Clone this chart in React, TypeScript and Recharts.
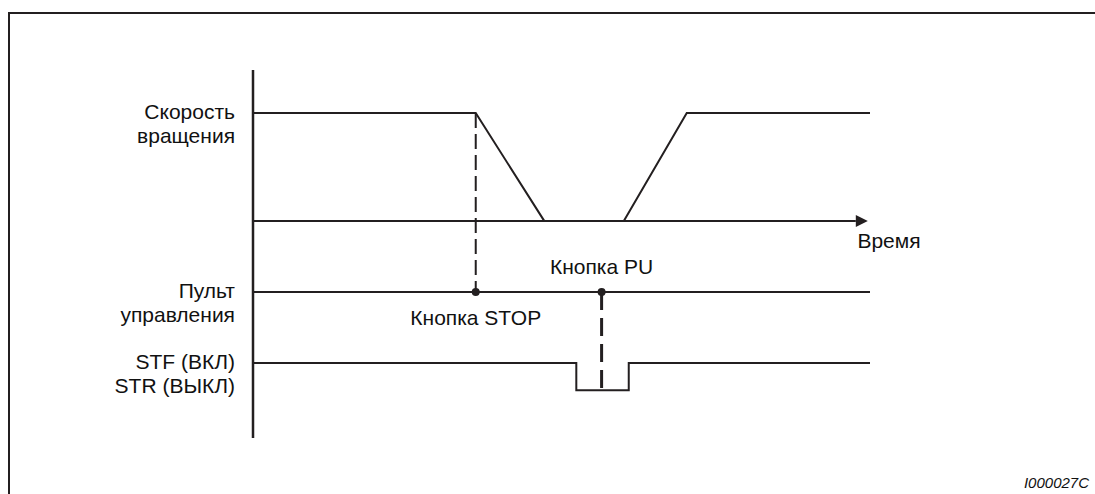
import React from 'react';
import { LineChart, Line, XAxis, YAxis, ReferenceDot } from 'recharts';

// time runs 0..100 along the axis, level 0..100 up the vertical axis
const speedTime = [0, 36.1, 47.2, 60.1, 70.3, 100];
const speedLevel = [88.3, 88.3, 59, 59, 88.3, 88.3];

const axisTime = [0, 97.7];
const axisLevel = [59, 59];

const panelTime = [0, 100];
const panelLevel = [39.7, 39.7];

const stfTime = [0, 52.4, 52.4, 60.9, 60.9, 100];
const stfLevel = [20.4, 20.4, 13, 13, 20.4, 20.4];

const stopTime = [36.1, 36.1];
const stopLevel = [88.3, 39.7];

const puTime = [56.5, 56.5];
const puLevel = [39.7, 13];

const levelTicks = [88.3, 39.7, 20.4];
const levelLabels = [
  ['Скорость', 'вращения'],
  ['Пульт', 'управления'],
  ['STF (ВКЛ)', 'STR (ВЫКЛ)'],
];

const INK = '#231f20';
const FONT = '"Liberation Sans", Arial, sans-serif';
const SIZE = 21;

const zip = (t: number[], v: number[]) => t.map((x, i) => ({ t: x, v: v[i] }));

const speedData = zip(speedTime, speedLevel);
const axisData = zip(axisTime, axisLevel);
const panelData = zip(panelTime, panelLevel);
const stfData = zip(stfTime, stfLevel);
const stopData = zip(stopTime, stopLevel);
const puData = zip(puTime, puLevel);

const LevelTick = ({ x, y, payload }: any) => {
  const idx = levelTicks.indexOf(payload.value);
  const lines = levelLabels[idx] || [];
  return (
    <text x={x} y={y + 6} textAnchor="end" fontFamily={FONT} fontSize={SIZE} fill="#111">
      {lines.map((l, i) => (
        <tspan key={i} x={x} dy={i === 0 ? 0 : 24}>{l}</tspan>
      ))}
    </text>
  );
};

const ArrowDot = (props: any) => {
  const { cx, cy, index } = props;
  if (index !== axisData.length - 1) return <g key={`a${index}`} />;
  return (
    <polygon key="arrow" points={`${cx},${cy - 6} ${cx + 12},${cy} ${cx},${cy + 6}`} fill={INK} />
  );
};

export default function App() {
  return (
    <div style={{ position: 'absolute', left: 0, top: 0, width: 1095, height: 494, background: '#fff', overflow: 'hidden' }}>
      <div
        style={{
          position: 'absolute',
          left: 8,
          top: 12,
          width: 1100,
          height: 500,
          borderLeft: `2.5px solid ${INK}`,
          borderTop: `2.5px solid ${INK}`,
        }}
      />
      <div style={{ position: 'absolute', left: 0, top: 0 }}>
        <LineChart width={1095} height={494} margin={{ top: 70, right: 225, bottom: 56, left: 13 }}>
          <XAxis dataKey="t" type="number" domain={[0, 100]} hide />
          <YAxis
            type="number"
            domain={[0, 100]}
            width={240}
            ticks={levelTicks}
            interval={0}
            tick={<LevelTick />}
            tickLine={false}
            tickSize={0}
            tickMargin={18}
            axisLine={{ stroke: INK, strokeWidth: 2.5 }}
          />
          <Line data={axisData} dataKey="v" type="linear" stroke={INK} strokeWidth={2} dot={ArrowDot} isAnimationActive={false} />
          <Line data={speedData} dataKey="v" type="linear" stroke={INK} strokeWidth={2} dot={false} isAnimationActive={false} />
          <Line data={panelData} dataKey="v" type="linear" stroke={INK} strokeWidth={2} dot={false} isAnimationActive={false} />
          <Line data={stfData} dataKey="v" type="linear" stroke={INK} strokeWidth={2} dot={false} isAnimationActive={false} />
          <Line data={stopData} dataKey="v" type="linear" stroke={INK} strokeWidth={2} strokeDasharray="15 6" dot={false} isAnimationActive={false} />
          <Line data={puData} dataKey="v" type="linear" stroke={INK} strokeWidth={3} strokeDasharray="18 8" dot={false} isAnimationActive={false} />
          <ReferenceDot
            x={36.1}
            y={39.7}
            r={4}
            fill={INK}
            stroke="none"
            label={{ value: 'Кнопка STOP', position: 'bottom', offset: 14, fontFamily: FONT, fontSize: SIZE, fill: '#111' }}
          />
          <ReferenceDot
            x={56.5}
            y={39.7}
            r={4}
            fill={INK}
            stroke="none"
            label={{ value: 'Кнопка PU', position: 'top', offset: 14, fontFamily: FONT, fontSize: SIZE, fill: '#111' }}
          />
          <ReferenceDot
            x={100}
            y={59}
            r={0}
            fill="none"
            stroke="none"
            label={{ value: 'Время', position: 'bottom', offset: 12, dx: 19, fontFamily: FONT, fontSize: SIZE, fill: '#111' }}
          />
        </LineChart>
      </div>
      <div
        style={{
          position: 'absolute',
          right: 6,
          top: 474,
          fontFamily: FONT,
          fontStyle: 'italic',
          fontSize: 15,
          color: '#111',
        }}
      >
        I000027C
      </div>
    </div>
  );
}
